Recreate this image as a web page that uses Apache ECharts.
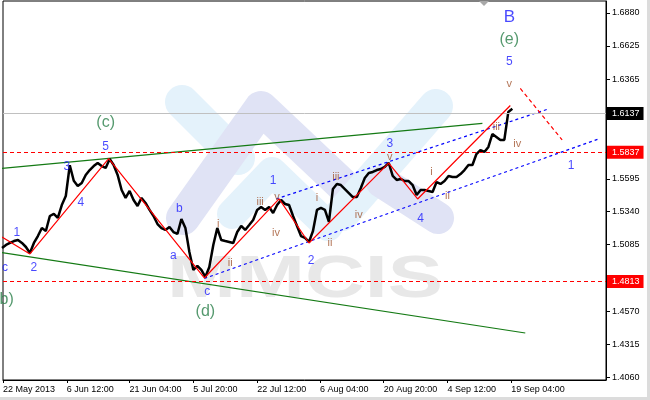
<!DOCTYPE html>
<html><head><meta charset="utf-8">
<script src="https://cdn.jsdelivr.net/npm/echarts@6/dist/echarts.min.js"></script>
<style>html,body{margin:0;padding:0;background:#fff}#c{width:650px;height:400px}</style>
</head><body><div id="c"></div>
<script>
// price samples (close), one every PRICE_STEP bars (H4 bars)
const PRICE_STEP = 4;
const closes = [
1.5059,1.5083,1.5098,1.5113,1.5121,1.5098,1.5067,1.5021,1.5098,1.5152,
1.5214,1.5191,1.5307,1.5323,1.5292,1.5392,1.5462,1.5700,1.5580,1.5540,
1.5563,1.5625,1.5663,1.5694,1.5718,1.5694,1.5679,1.5749,1.5702,1.5625,
1.5508,1.5447,1.5501,1.5431,1.5385,1.5447,1.5408,1.5354,1.5307,1.5245,
1.5214,1.5199,1.5222,1.5183,1.5168,1.5284,1.5214,1.5028,1.4889,1.4920,
1.4889,1.4835,1.4912,1.5083,1.5214,1.5121,1.5113,1.5106,1.5098,1.5183,
1.5230,1.5199,1.5237,1.5276,1.5354,1.5377,1.5354,1.5377,1.5330,1.5392,
1.5431,1.5400,1.5392,1.5307,1.5230,1.5152,1.5137,1.5106,1.5191,1.5354,
1.5369,1.5354,1.5261,1.5516,1.5555,1.5547,1.5516,1.5485,1.5454,1.5454,
1.5524,1.5601,1.5640,1.5648,1.5663,1.5671,1.5687,1.5718,1.5617,1.5586,
1.5594,1.5578,1.5578,1.5547,1.5470,1.5508,1.5508,1.5501,1.5493,1.5570,
1.5555,1.5578,1.5617,1.5609,1.5609,1.5632,1.5663,1.5702,1.5702,1.5787,
1.5818,1.5803,1.5842,1.5942,1.5919,1.5896,1.5896,1.6113,1.6137
];
const xTickBars = [1,65,128,192,256,319,383,447,511];
const xTickLabels = ['22 May 2013','6 Jun 12:00','21 Jun 04:00','5 Jul 20:00','22 Jul 12:00','6 Aug 04:00','20 Aug 20:00','4 Sep 12:00','19 Sep 04:00'];
const yTickValues = [1.4060,1.4315,1.4570,1.5085,1.5340,1.5595,1.6365,1.6625,1.6880];
const lastPrice = 1.6137;
const levelPrices = [1.5837, 1.4813];

// annotation lines [bar, price]
const wavePath = [[0,1.5144],[28,1.5013],[107,1.5752],[203,1.4827],[278,1.5439],[308,1.5098],[388,1.5717],[417,1.5439],[510,1.6163]];
const projection = [[520,1.6295],[562,1.5896]];
const greenUpper = [[0,1.5676],[482,1.6025]];
const greenLower = [[0,1.5024],[525,1.4401]];
const blueLower = [[203,1.4823],[600,1.5907]];
const blueUpper = [[275,1.5439],[547,1.6133]];

// wave labels [bar, price, text]
const bigLabels = [[509,1.6848,'B']];
const greenLabels = [[509,1.6670,'(e)'],[104,1.6027,'(c)'],[204,1.4563,'(d)'],[2,1.4656,'(b)']];
const blueLabels = [[509,1.6500,'5'],[571,1.5694,'1'],[420,1.5284,'4'],[389,1.5865,'3'],[310,1.4958,'2'],[272,1.5578,'1'],[206,1.4718,'c'],[178,1.5361,'b'],[172,1.4997,'a'],[104,1.5841,'5'],[65,1.5686,'3'],[79,1.5408,'4'],[15,1.5175,'1'],[32,1.4904,'2'],[3,1.4904,'c']];
const romanLabels = [[509,1.6329,'v'],[517,1.5865,'iv'],[496,1.5996,'iii'],[447,1.5462,'ii'],[431,1.5648,'i'],[389,1.5764,'v'],[358,1.5315,'iv'],[335,1.5609,'iii'],[329,1.5098,'ii'],[316,1.5446,'i'],[276,1.5454,'v'],[275,1.5175,'iv'],[259,1.5415,'iii'],[229,1.4943,'ii'],[217,1.5245,'i']];

const FONT = 'Liberation Sans';
const chart = echarts.init(document.getElementById('c'), null, {renderer:'canvas'});

function seg(data, color, type, z, w) {
  return {type:'line', data:data, symbol:'none', silent:true, animation:false, z:z||3,
    lineStyle:{color:color, width:w||1, type:type||'solid'}};
}
function labelSeries(arr, color, size) {
  return {type:'scatter', silent:true, animation:false, symbolSize:1, z:6,
    itemStyle:{color:'rgba(0,0,0,0)'},
    data: arr.map(a => ({value:[a[0], a[1]], label:{formatter:a[2]}})),
    label:{show:true, position:'inside', color:color, fontSize:size, fontFamily:FONT}};
}
function tag(price, bg, lineColor, lineType) {
  return {yAxis: price, lineStyle:{color:lineColor, type:lineType, width:1},
    label:{show:true, position:'end', formatter: price.toFixed(4), color:'#fff', backgroundColor:bg,
      fontFamily:FONT, fontSize:9, padding:[2,4,1,5], distance:1, lineHeight:10}};
}

const priceData = closes.map((v,i) => [i*PRICE_STEP, v]);

const wm = '#e8e8e8', lb = '#e4f2fb', lv = '#e0e3f5';
function stripe(points, color, w) {
  return {type:'polyline', silent:true, z:-10, shape:{points:points},
    style:{stroke:color, lineWidth:w, lineCap:'round', lineJoin:'round', fill:null}};
}

chart.setOption({
  animation:false,
  backgroundColor:'#fff',
  grid:{left:1, top:1, right:44, bottom:20, show:true, borderColor:'#000', borderWidth:1, backgroundColor:'transparent'},
  xAxis:{type:'value', min:1, max:606,
    axisLine:{show:true, lineStyle:{color:'#000'}},
    axisTick:{show:true, length:3, lineStyle:{color:'#000'}, customValues:xTickBars},
    axisLabel:{show:true, customValues:xTickBars, align:'left', margin:5, color:'#000', fontSize:9, fontFamily:FONT,
      formatter: v => { const k = xTickBars.indexOf(Math.round(v)); return k >= 0 ? xTickLabels[k] : ''; }},
    splitLine:{show:false}},
  yAxis:{type:'value', position:'right', min:1.4037, max:1.6972, scale:true,
    axisLine:{show:true, lineStyle:{color:'#000'}},
    axisTick:{show:true, length:4, lineStyle:{color:'#000'}, customValues:yTickValues},
    axisLabel:{show:true, customValues:yTickValues, margin:6, color:'#000', fontSize:9, fontFamily:FONT,
      formatter: v => v.toFixed(4)},
    splitLine:{show:false}},
  graphic:[
    stripe([[182,102],[238,158]], lb, 34),
    stripe([[183,218],[261,108],[350,192]], lv, 34),
    stripe([[232,214],[272,172],[328,226]], lb, 30),
    stripe([[342,214],[436,106]], lb, 34),
    stripe([[382,182],[438,218]], lv, 32),
    {type:'text', silent:true, z:-9, x:167, y:250, scaleX:1.38,
      style:{text:'MMCIS', fill:wm, font:'bold 60px "Liberation Sans"', verticalAlign:'top'}},
    {type:'polygon', silent:true, z:10, shape:{points:[[479,1],[489,1],[484,6]]}, style:{fill:'#a8a8a8'}},
    {type:'rect', silent:true, z:10, shape:{x:0, y:397, width:650, height:3}, style:{fill:'#dcdcdc'}},
    {type:'rect', silent:true, z:10, shape:{x:647, y:0, width:3, height:400}, style:{fill:'#dcdcdc'}}
  ],
  series:[
    seg(greenUpper, '#147a14', 'solid', 3, 1.2),
    seg(greenLower, '#147a14', 'solid', 3, 1.2),
    seg(blueLower, '#0000ff', [3,3], 3, 1.2),
    seg(blueUpper, '#0000ff', [3,3], 3, 1.2),
    seg(projection, '#ff0000', [4,3], 3, 1.2),
    {type:'line', data:[], symbol:'none', silent:true, animation:false, z:2, clip:false,
      markLine:{silent:true, symbol:'none', animation:false,
        data:[tag(lastPrice, '#000', '#c0c0c0', 'solid'),
              tag(levelPrices[0], '#ff0000', '#ff0000', [4,3]),
              tag(levelPrices[1], '#ff0000', '#ff0000', [4,3])]}},
    {type:'line', data:priceData, symbol:'none', silent:true, animation:false, z:4,
      lineStyle:{color:'#000', width:2.5}},
    seg(wavePath, '#ff0000', 'solid', 5, 1.2),
    labelSeries(bigLabels, '#1a1aff', 17),
    labelSeries(greenLabels, '#2a7f4a', 16),
    labelSeries(blueLabels, '#1a1aff', 12),
    labelSeries(romanLabels, '#a0522d', 11)
  ]
});
</script></body></html>
